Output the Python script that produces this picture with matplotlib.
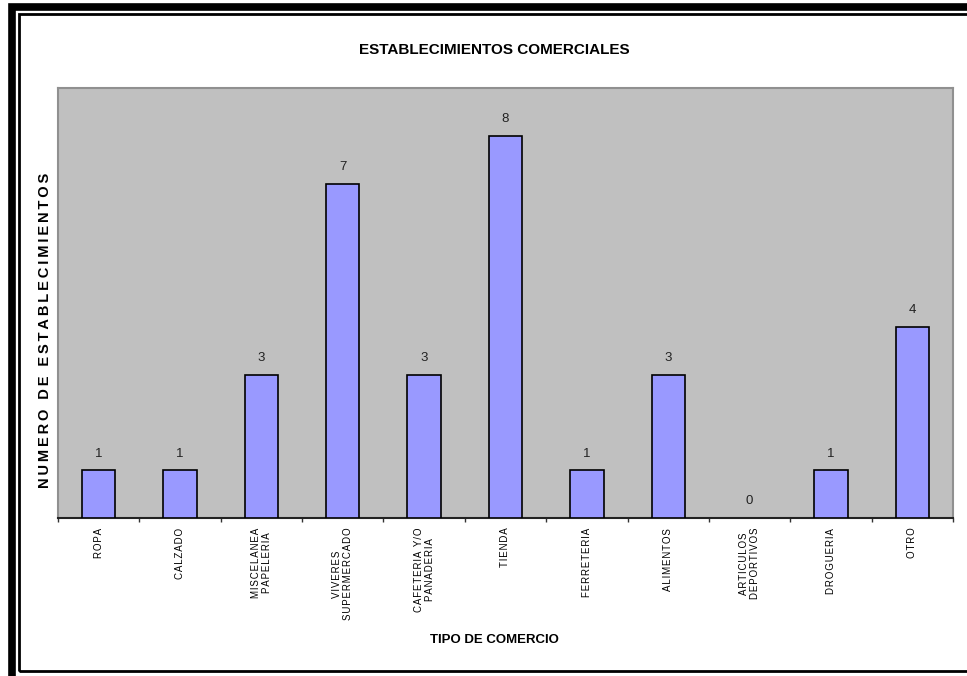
import matplotlib
matplotlib.use("Agg")
import matplotlib.pyplot as plt
from matplotlib.patches import Rectangle

plt.rcParams['font.family'] = ['Liberation Sans', 'DejaVu Sans']

# datos del grafico
categorias = ["ROPA", "CALZADO", "MISCELANEA\nPAPELERIA", "VIVERES\nSUPERMERCADO",
              "CAFETERIA Y/O\nPANADERIA", "TIENDA", "FERRETERIA", "ALIMENTOS",
              "ARTICULOS\nDEPORTIVOS", "DROGUERIA", "OTRO"]
valores = [1, 1, 3, 7, 3, 8, 1, 3, 0, 1, 4]

titulo = "ESTABLECIMIENTOS COMERCIALES"
etiqueta_x = "TIPO DE COMERCIO"
etiqueta_y = "NUMERO DE ESTABLECIMIENTOS"


def espaciar(texto, sep='\u2009'):
    # separa las letras como en el grafico original
    return "\n".join(sep.join(linea) for linea in texto.split("\n"))


W, H = 967, 676
fig = plt.figure(figsize=(W / 100, H / 100), dpi=100)

# marco doble (cortado por la derecha y por abajo)
fig.patches.append(Rectangle((12 / W, -20 / H), (W + 30) / W, (H + 13.5) / H,
                             transform=fig.transFigure, fill=False,
                             edgecolor='black', linewidth=5.5))
fig.patches.append(Rectangle((19 / W, 1 - 670.5 / H), (W + 30) / W, 656.5 / H,
                             transform=fig.transFigure, fill=False,
                             edgecolor='black', linewidth=2))

x0, x1 = 58, 953
y0, y1 = 88, 518
ax = fig.add_axes([x0 / W, 1 - y1 / H, (x1 - x0) / W, (y1 - y0) / H])
ax.set_facecolor('#c0c0c0')

pos = list(range(len(categorias)))
for p, v in zip(pos, valores):
    if v > 0:
        ax.bar(p, v, width=0.41, color='#9999ff', edgecolor='black',
               linewidth=1.2, zorder=3)
    ax.text(p, v + 0.22, str(v), ha='center', va='bottom', fontsize=9.5,
            color='#222222')

ax.set_xlim(-0.5, len(categorias) - 0.5)
ax.set_ylim(0, 9)
ax.set_yticks([])
ax.set_xticks([p + 0.5 for p in range(-1, len(categorias))])
ax.set_xticklabels([])
ax.tick_params(axis='x', direction='out', length=3, width=1, color='#333333')
ax.set_xticks(pos, minor=True)
ax.set_xticklabels([espaciar(c, '\u200a') for c in categorias], minor=True,
                   rotation=90, fontsize=7, va='top', ha='center',
                   linespacing=1.15)
ax.tick_params(axis='x', which='minor', length=0, pad=7)

for lado in ['top', 'left', 'right']:
    ax.spines[lado].set_color('#909090')
    ax.spines[lado].set_linewidth(1.5)
ax.spines['bottom'].set_color('#222222')
ax.spines['bottom'].set_linewidth(1.5)

fig.text(494 / W, 1 - 50 / H, titulo, ha='center', va='center',
         fontsize=11, fontweight='bold')
fig.text(494 / W, 1 - 640 / H, etiqueta_x, ha='center', va='center',
         fontsize=9.5, fontweight='bold')
fig.text(45 / W, 1 - 330 / H, espaciar(etiqueta_y, '\u2009'), ha='center',
         va='center', rotation=90, fontsize=10.5, fontweight='bold')

fig.savefig("out.png", dpi=100)
